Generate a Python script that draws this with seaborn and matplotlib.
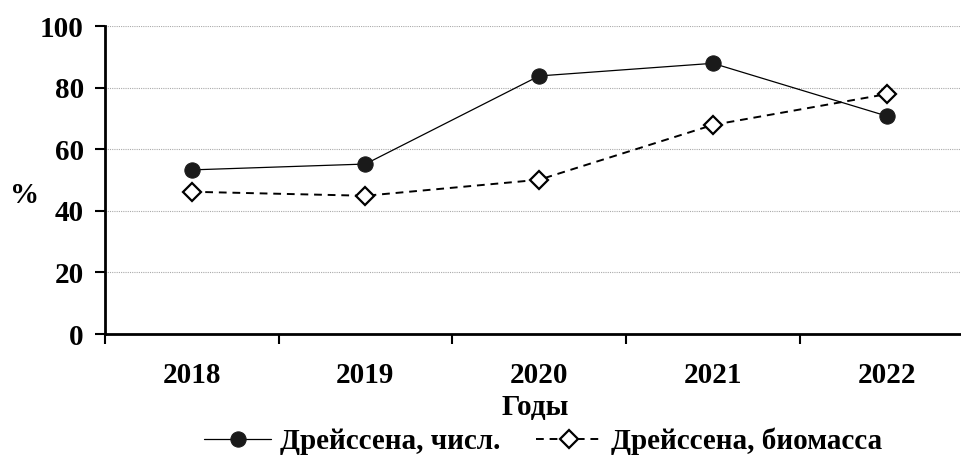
import matplotlib.pyplot as plt
import seaborn as sns
import pandas as pd
import numpy as np

years = ['2018', '2019', '2020', '2021', '2022']
count_share = [53.3, 55.2, 83.8, 87.9, 70.8]
biomass_share = [46.2, 44.9, 50.1, 67.9, 77.9]

sns.set_style('white')
plt.rcParams['font.family'] = ['Liberation Serif', 'DejaVu Serif']
plt.rcParams['font.weight'] = 'bold'
plt.rcParams['text.color'] = 'black'
plt.rcParams['axes.labelcolor'] = 'black'
plt.rcParams['xtick.color'] = 'black'
plt.rcParams['ytick.color'] = 'black'

df = pd.DataFrame({'pos': np.arange(len(years)),
                   'count': count_share,
                   'biomass': biomass_share})

fig = plt.figure(figsize=(9.61, 4.57), dpi=100)
ax = fig.add_axes([0.109, 0.269, 0.895, 0.674])

sns.lineplot(data=df, x='pos', y='count', ax=ax, color='black', lw=0.9,
             marker='o', markersize=11, markerfacecolor='#1a1a1a',
             markeredgecolor='#1a1a1a', label='Дрейссена, числ.')
sns.lineplot(data=df, x='pos', y='biomass', ax=ax, color='black', lw=1.4,
             linestyle=(0, (4, 3)), marker='D', markersize=9,
             markerfacecolor='white', markeredgecolor='black',
             markeredgewidth=1.6, label='Дрейссена, биомасса')

ax.set_ylim(0, 100)
ax.set_yticks(np.arange(0, 101, 20))
ax.set_xlim(-0.5, 4.45)
ax.set_xticks(df['pos'])
ax.set_xticklabels(years)
ax.set_xticks(np.arange(-0.5, 4.5, 1), minor=True)
ax.tick_params(axis='x', which='major', bottom=True, length=0, pad=20,
               labelsize=21)
ax.tick_params(axis='x', which='minor', bottom=True, length=7, width=1.5,
               direction='out', color='black')
ax.tick_params(axis='y', left=True, length=7, width=1.5, direction='out',
               color='black', labelsize=21, pad=8)
ax.yaxis.grid(True, linestyle=(0, (1, 1)), color='#aaaaaa', lw=0.8)
ax.xaxis.grid(False)

for side in ['top', 'right']:
    ax.spines[side].set_visible(False)
for side in ['left', 'bottom']:
    ax.spines[side].set_color('black')
    ax.spines[side].set_linewidth(2)

ax.set_xlabel('Годы', fontsize=21, fontweight='bold', labelpad=4)
ax.set_ylabel('%', fontsize=21, fontweight='bold', rotation=0,
              va='center', ha='center')
ax.yaxis.set_label_coords(-0.093, 0.45)

ax.legend(loc='upper center', bbox_to_anchor=(0.51, -0.265), ncol=2,
          frameon=False, fontsize=21, handlelength=2.3, columnspacing=1.2,
          handletextpad=0.3, borderaxespad=0)

plt.savefig('out.png', dpi=100)
